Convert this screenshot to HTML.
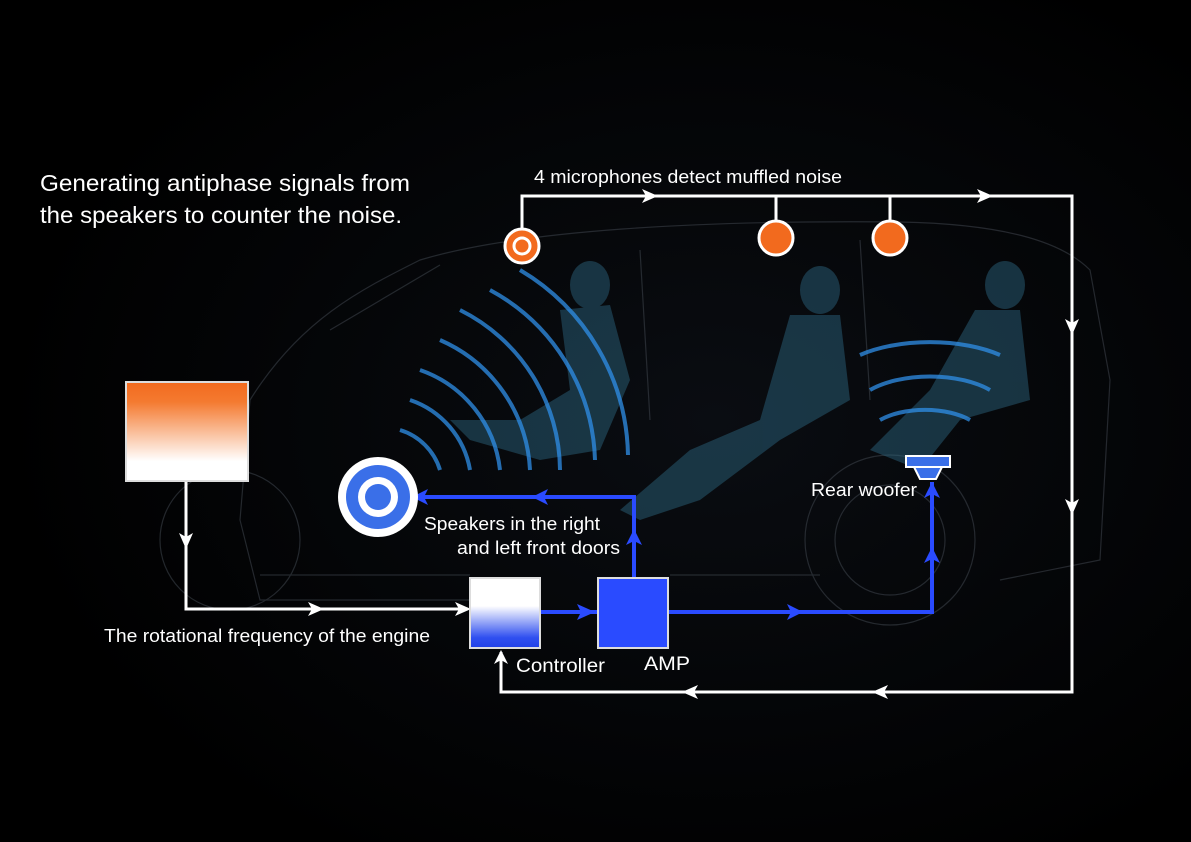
<!DOCTYPE html>
<html><head><meta charset="utf-8"><style>
html,body{margin:0;padding:0;background:#000;}
svg{display:block}
text{font-family:"Liberation Sans",sans-serif;fill:#fff;}
</style></head><body>
<svg width="1191" height="842" viewBox="0 0 1191 842" xmlns="http://www.w3.org/2000/svg">
<defs>
<radialGradient id="bg" cx="0.6" cy="0.5" r="0.6"><stop offset="0" stop-color="#0a0d12"/><stop offset="1" stop-color="#000"/></radialGradient>
<linearGradient id="og" x1="0" y1="0" x2="0" y2="1"><stop offset="0" stop-color="#f26a1e"/><stop offset="0.2" stop-color="#f47a30"/><stop offset="0.8" stop-color="#fff"/><stop offset="1" stop-color="#fff"/></linearGradient>
<linearGradient id="bgc" x1="0" y1="0" x2="0" y2="1"><stop offset="0" stop-color="#fff"/><stop offset="0.4" stop-color="#fff"/><stop offset="0.85" stop-color="#3050f0"/><stop offset="1" stop-color="#2040e8"/></linearGradient>
</defs>
<rect width="1191" height="842" fill="url(#bg)"/>
<g fill="none" stroke="#3a4048" stroke-width="1.2" opacity="0.6">
<path d="M250,400 C300,320 360,290 420,260 C520,230 700,220 900,222 C1000,224 1060,240 1090,270 L1110,380 L1100,560 L1000,580"/>
<path d="M250,400 L240,520 L260,600 L470,600"/>
<path d="M330,330 L440,265 M640,250 L650,420 M860,240 L870,400"/>
<circle cx="230" cy="540" r="70"/><circle cx="890" cy="540" r="85"/><circle cx="890" cy="540" r="55"/>
<path d="M260,575 L470,575 M670,575 L820,575"/>
</g>
<g fill="#2e6a86" opacity="0.45">
<ellipse cx="590" cy="285" rx="20" ry="24"/><path d="M560,310 L610,305 L630,380 L600,450 L540,460 L470,440 L450,420 L520,420 L570,390z"/>
<ellipse cx="820" cy="290" rx="20" ry="24"/><path d="M790,315 L840,315 L850,400 L780,440 L700,500 L640,520 L620,510 L690,450 L760,420z"/>
<ellipse cx="1005" cy="285" rx="20" ry="24"/><path d="M975,310 L1020,310 L1030,400 L960,420 L920,470 L870,450 L930,390z"/>
</g>
<g fill="none" stroke="#2f8fe8" stroke-width="4" opacity="0.75">
<path d="M400,430 A60,60 0 0 1 440,470"/><path d="M410,400 A90,90 0 0 1 470,470"/><path d="M420,370 A120,120 0 0 1 500,470"/><path d="M440,340 A150,150 0 0 1 530,470"/><path d="M460,310 A180,180 0 0 1 560,470"/><path d="M490,290 A200,200 0 0 1 595,460"/><path d="M520,270 A220,220 0 0 1 628,455"/>
<path d="M880,420 A60,30 0 0 1 970,420"/><path d="M870,390 A80,40 0 0 1 990,390"/><path d="M860,355 A100,45 0 0 1 1000,355"/>
</g>
<g fill="none" stroke="#fff" stroke-width="3">
<path d="M522,228 L522,196 L1072,196 L1072,692 L501,692 L501,652"/>
<path d="M776,196 L776,221 M890,196 L890,221"/>
<path d="M186,481 L186,609 L468,609"/>
</g>
<g stroke="none" fill="#fff">
<path d="M642,189 L658,196 L642,203 L646,196z"/>
<path d="M977,189 L993,196 L977,203 L981,196z"/>
<path d="M1065,319 L1072,335 L1079,319 L1072,323z"/>
<path d="M1065,499 L1072,515 L1079,499 L1072,503z"/>
<path d="M888,685 L872,692 L888,699 L884,692z"/>
<path d="M698,685 L682,692 L698,699 L694,692z"/>
<path d="M494,664 L501,650 L508,664 L501,660z"/>
<path d="M179,533 L186,549 L193,533 L186,537z"/>
<path d="M308,602 L324,609 L308,616 L312,609z"/>
<path d="M455,602 L471,609 L455,616 L459,609z"/>
</g>
<g fill="none" stroke="#2a4bff" stroke-width="4">
<path d="M540,612 L598,612"/>
<path d="M634,578 L634,497 L408,497"/>
<path d="M668,612 L932,612 L932,482"/>
</g>
<g fill="#2a4bff">
<path d="M577,604 L595,612 L577,620 L581,612z"/>
<path d="M548,489 L532,497 L548,505 L544,497z"/>
<path d="M428,489 L412,497 L428,505 L424,497z"/>
<path d="M626,545 L634,529 L642,545 L634,541z"/>
<path d="M787,604 L803,612 L787,620 L791,612z"/>
<path d="M924,563 L932,547 L940,563 L932,559z"/>
<path d="M924,498 L932,482 L940,498 L932,494z"/>
</g>
<rect x="126" y="382" width="122" height="99" fill="url(#og)" stroke="#ddd" stroke-width="2"/>
<rect x="470" y="578" width="70" height="70" fill="url(#bgc)" stroke="#ddd" stroke-width="2"/>
<rect x="598" y="578" width="70" height="70" fill="#2a4bff" stroke="#ddd" stroke-width="2"/>
<circle cx="522" cy="246" r="17" fill="#f26a1e" stroke="#fff" stroke-width="3"/>
<circle cx="522" cy="246" r="8" fill="#f26a1e" stroke="#fff" stroke-width="3"/>
<circle cx="776" cy="238" r="17" fill="#f26a1e" stroke="#fff" stroke-width="3"/>
<circle cx="890" cy="238" r="17" fill="#f26a1e" stroke="#fff" stroke-width="3"/>
<circle cx="378" cy="497" r="40" fill="#fff"/>
<circle cx="378" cy="497" r="32" fill="#3a6fe8"/>
<circle cx="378" cy="497" r="20" fill="#fff"/>
<circle cx="378" cy="497" r="13" fill="#3a6fe8"/>
<rect x="906" y="456" width="44" height="11" fill="#3a6fe8" stroke="#fff" stroke-width="2"/>
<path d="M914,467 L942,467 L936,479 L920,479z" fill="#3a6fe8" stroke="#fff" stroke-width="2"/>
<text x="40" y="191" font-size="23" textLength="370" lengthAdjust="spacingAndGlyphs">Generating antiphase signals from</text>
<text x="40" y="223" font-size="23" textLength="362" lengthAdjust="spacingAndGlyphs">the speakers to counter the noise.</text>
<text x="534" y="183" font-size="18" textLength="308" lengthAdjust="spacingAndGlyphs">4 microphones detect muffled noise</text>
<text x="424" y="530" font-size="18" textLength="176" lengthAdjust="spacingAndGlyphs">Speakers in the right</text>
<text x="457" y="554" font-size="18" textLength="163" lengthAdjust="spacingAndGlyphs">and left front doors</text>
<text x="104" y="642" font-size="18" textLength="326" lengthAdjust="spacingAndGlyphs">The rotational frequency of the engine</text>
<text x="516" y="672" font-size="19" textLength="89" lengthAdjust="spacingAndGlyphs">Controller</text>
<text x="644" y="670" font-size="19" textLength="46" lengthAdjust="spacingAndGlyphs">AMP</text>
<text x="811" y="496" font-size="18" textLength="106" lengthAdjust="spacingAndGlyphs">Rear woofer</text>
</svg>
</body></html>
